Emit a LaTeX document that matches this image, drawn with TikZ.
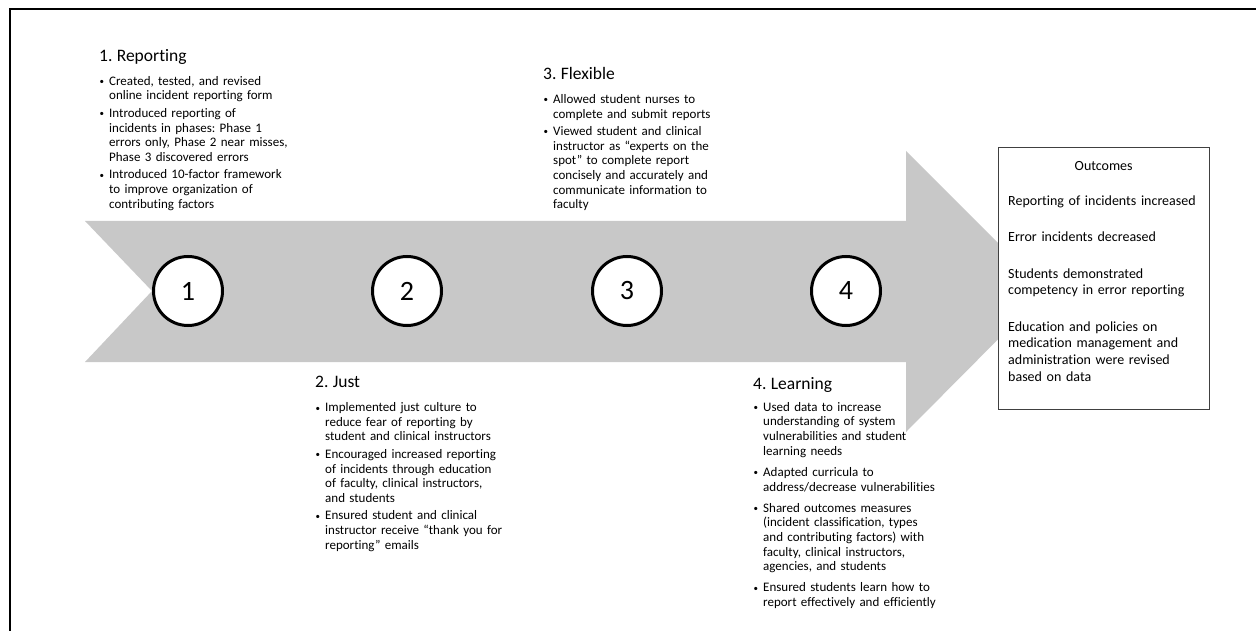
\documentclass[tikz,border=0pt]{standalone}
\usepackage{fontspec}
\setmainfont{Carlito}[Ligatures=NoCommon]
\usepackage{enumitem}
\usetikzlibrary{positioning}

\definecolor{arrowgrey}{RGB}{200,200,200}
\setlist[itemize]{label={\raisebox{0.5pt}{\fontsize{9}{9}\selectfont\textbullet}}, leftmargin=10pt, labelsep=5pt, topsep=0pt, partopsep=0pt, parsep=0pt, itemsep=2.7pt}
\frenchspacing

\begin{document}
\begin{tikzpicture}[x=1pt,y=-1pt]
		% Define styles for stage circles, text blocks and the outcome box
		\tikzset{
			stage/.style={circle, draw=black, line width=3pt, fill=white, minimum size=69pt, inner sep=0pt, font=\fontsize{28}{30}\selectfont},
			stagetext/.style={anchor=north west, inner sep=0pt, text width=#1, align=left, font=\fontsize{13}{14.7}\selectfont},
			outbox/.style={draw=black!75, line width=1pt, fill=white, minimum width=211pt, minimum height=262pt, anchor=north west, inner sep=0pt}
		}
		
		% Canvas and the frame on top and left
		\useasboundingbox (0,0) rectangle (1256,631);
		\draw[line width=2pt] (10,631) -- (10,9) -- (1256,9);
		
		% Draw the big arrow
		\fill[arrowgrey] (85,221) -- (906,221) -- (906,151) -- (1046,291) -- (906,432) -- (906,362) -- (85,362) -- (152,291) -- cycle;
		
		% Draw the numbered stages
		\node[stage] (s1) at (188,291) {1};
		\node[stage] (s2) at (407,291) {2};
		\node[stage] (s3) at (627,291) {3};
		\node[stage] (s4) at (846,291) {4};
		
		% Stage texts above the arrow
		\node[stagetext=200pt] (reporting) at (99,49) {{\fontsize{17.5}{20}\selectfont 1. Reporting}\par\vspace{9.3pt}
			\begin{itemize}
				\item Created, tested, and revised\\online incident reporting form
				\item Introduced reporting of\\incidents in phases: Phase 1\\errors only, Phase 2 near misses,\\Phase 3 discovered errors
				\item Introduced 10-factor framework\\to improve organization of\\contributing factors
			\end{itemize}};
		\node[stagetext=190pt] (flexible) at (543,67) {{\fontsize{17.5}{20}\selectfont 3. Flexible}\par\vspace{9.3pt}
			\begin{itemize}
				\item Allowed student nurses to\\complete and submit reports
				\item Viewed student and clinical\\instructor as “experts on the\\spot” to complete report\\concisely and accurately and\\communicate information to\\faculty
			\end{itemize}};
		
		% Stage texts below the arrow
		\node[stagetext=200pt] (just) at (315,376) {{\fontsize{17.5}{20}\selectfont 2. Just}\par\vspace{9.3pt}
			\begin{itemize}
				\item Implemented just culture to\\reduce fear of reporting by\\student and clinical instructors
				\item Encouraged increased reporting\\of incidents  through education\\of faculty, clinical instructors,\\and students
				\item Ensured student and clinical\\instructor receive “thank you for\\reporting” emails
			\end{itemize}};
		\node[stagetext=200pt] (learning) at (753,377) {{\fontsize{17.5}{20}\selectfont 4. Learning}\par\vspace{7.3pt}
			\begin{itemize}[itemsep=6.3pt]
				\item Used data to increase\\understanding of system\\vulnerabilities and student\\learning needs
				\item Adapted curricula to\\address/decrease vulnerabilities
				\item Shared outcomes measures\\(incident classification, types\\and contributing factors) with\\faculty, clinical instructors,\\agencies, and students
				\item Ensured students learn how to\\report effectively and efficiently
			\end{itemize}};
		
		% Outcome box over the arrow head
		\node[outbox] (outcomes) at (998,147) {};
		\node[anchor=north west, inner sep=0pt, text width=191pt, align=left, font=\fontsize{14}{16.7}\selectfont] (outtext) at ([xshift=10pt,yshift=-14pt]outcomes.north west) {\makebox[191pt]{Outcomes}\\[18.3pt]
			Reporting of incidents increased\\[19.7pt]
			Error incidents decreased\\[19.7pt]
			Students demonstrated\\competency in error reporting\\[19.7pt]
			Education and policies on\\medication management and\\administration were revised\\based on data};
	\end{tikzpicture}
\end{document}
